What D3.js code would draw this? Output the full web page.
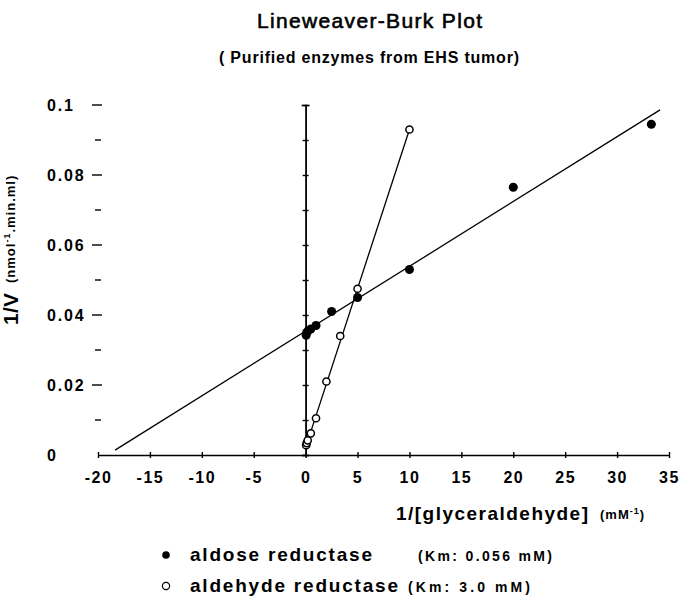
<!DOCTYPE html>
<html>
<head>
<meta charset="utf-8">
<script src="https://cdn.jsdelivr.net/npm/d3@7"></script>
<style>
  body { margin: 0; background: #fff; }
  svg { display: block; }
  text { font-family: "Liberation Sans", Arial, Helvetica, sans-serif; fill: #000; }
</style>
</head>
<body>
<svg id="chart" width="681" height="598"></svg>
<script>
// 1/[S] (mM^-1) and 1/V readings
const aldoseX = [0.05, 0.1, 0.25, 0.5, 1, 2.5, 5, 10, 20, 33.3];
const aldoseY = [0.0342, 0.035, 0.0355, 0.036, 0.037, 0.041, 0.045, 0.053, 0.0765, 0.0945];
const aldehydeX = [0.05, 0.1, 0.2, 0.5, 1, 2, 3.33, 5, 10];
const aldehydeY = [0.0028, 0.0034, 0.0042, 0.0062, 0.0105, 0.021, 0.034, 0.0475, 0.093];

// fitted lines (end points)
const aldoseFitX = [-18.36, 34.14];
const aldoseFitY = [0.0014, 0.0986];
const aldehydeFitX = [0.05, 10];
const aldehydeFitY = [0.0026, 0.093];

const xTicks = [-20, -15, -10, -5, 0, 5, 10, 15, 20, 25, 30, 35];
const xTickLabels = ["-20", "-15", "-10", "-5", "0", "5", "10", "15", "20", "25", "30", "35"];
const yMajor = [0, 0.02, 0.04, 0.06, 0.08, 0.1];
const yMajorLabels = ["0", "0.02", "0.04", "0.06", "0.08", "0.1"];
const yMinor = [0.01, 0.03, 0.05, 0.07, 0.09];
const yAll = [0, 0.01, 0.02, 0.03, 0.04, 0.05, 0.06, 0.07, 0.08, 0.09, 0.1];

const legendNames = ["aldose reductase", "aldehyde reductase"];
const legendKm = ["(Km: 0.056 mM)", "(Km: 3.0 mM)"];

const svg = d3.select("#chart");

const x = d3.scaleLinear().domain([-20, 35]).range([98, 669]);
const y = d3.scaleLinear().domain([0, 0.1]).range([455, 105]);

// titles
svg.append("text")
    .attr("x", 257).attr("y", 28)
    .attr("textLength", 225).attr("lengthAdjust", "spacing")
    .style("font-size", "21px")
    .style("stroke", "#000").style("stroke-width", 0.6)
    .text("Lineweaver-Burk Plot");

svg.append("text")
    .attr("x", 219).attr("y", 63)
    .attr("textLength", 300).attr("lengthAdjust", "spacing")
    .style("font-size", "16px").style("font-weight", "bold")
    .text("( Purified enzymes from EHS tumor)");

// x axis (ticks cross the line)
const xAxis = svg.append("g")
    .attr("transform", `translate(0,${y(0)})`)
    .call(d3.axisBottom(x).tickValues(xTicks).tickSizeInner(3).tickSizeOuter(0)
        .tickFormat((d, i) => xTickLabels[i]));
svg.append("g")
    .attr("transform", `translate(0,${y(0)})`)
    .call(d3.axisTop(x).tickValues(xTicks).tickSizeInner(3).tickSizeOuter(0).tickFormat(""))
    .select(".domain").remove();

xAxis.selectAll("text")
    .attr("y", 28).attr("dy", null)
    .style("font-family", null)
    .style("font-size", "16px").style("font-weight", "bold")
    .style("letter-spacing", "1.5px");

// vertical axis through x = 0
svg.append("g")
    .attr("transform", `translate(${x(0)},0)`)
    .call(d3.axisRight(y).tickValues(yAll).tickSizeInner(3).tickSizeOuter(4).tickFormat(""));
svg.append("g")
    .attr("transform", `translate(${x(0)},0)`)
    .call(d3.axisLeft(y).tickValues(yAll).tickSizeInner(3).tickSizeOuter(4).tickFormat(""));

svg.selectAll(".domain, .tick line")
    .attr("stroke", "#000").attr("stroke-width", 1.4);
svg.selectAll(".tick text").attr("fill", "#000");

// left-hand dash marks and labels
svg.append("g").selectAll("line")
    .data(yMajor.filter(d => d > 0))
    .join("line")
    .attr("x1", 92).attr("x2", 102)
    .attr("y1", d => y(d)).attr("y2", d => y(d))
    .attr("stroke", "#000").attr("stroke-width", 1.4);
svg.append("g").selectAll("line")
    .data(yMinor)
    .join("line")
    .attr("x1", 95).attr("x2", 101)
    .attr("y1", d => y(d)).attr("y2", d => y(d))
    .attr("stroke", "#000").attr("stroke-width", 1.4);

svg.append("g").selectAll("text")
    .data(yMajor)
    .join("text")
    .attr("x", 47)
    .attr("y", d => y(d) + 6)
    .style("font-size", "16px").style("font-weight", "bold")
    .style("letter-spacing", "1.8px")
    .text((d, i) => yMajorLabels[i]);

// axis titles
const yTitle = svg.append("g");
yTitle.append("text")
    .attr("transform", "translate(18,325) rotate(-90)")
    .attr("textLength", 32).attr("lengthAdjust", "spacing")
    .style("font-size", "21px").style("font-weight", "bold")
    .text("1/V");
const yUnit = yTitle.append("text")
    .attr("transform", "translate(15,283) rotate(-90)")
    .style("font-size", "13px").style("font-weight", "bold")
    .style("letter-spacing", "1px");
yUnit.append("tspan").text("(nmol");
yUnit.append("tspan").attr("baseline-shift", "super").style("font-size", "9px").text("-1");
yUnit.append("tspan").text(".min.ml)");

svg.append("text")
    .attr("x", 396).attr("y", 520)
    .attr("textLength", 192).attr("lengthAdjust", "spacing")
    .style("font-size", "19px").style("font-weight", "bold")
    .text("1/[glyceraldehyde]");
const xUnit = svg.append("text")
    .attr("x", 600).attr("y", 519)
    .style("font-size", "13px").style("font-weight", "bold")
    .style("letter-spacing", "1px");
xUnit.append("tspan").text("(mM");
xUnit.append("tspan").attr("baseline-shift", "super").style("font-size", "9px").text("-1");
xUnit.append("tspan").text(")");

// fitted lines
const line = d3.line().x(d => x(d[0])).y(d => y(d[1]));
svg.append("path")
    .datum(d3.zip(aldoseFitX, aldoseFitY))
    .attr("d", line)
    .attr("fill", "none").attr("stroke", "#000").attr("stroke-width", 1.3);
svg.append("path")
    .datum(d3.zip(aldehydeFitX, aldehydeFitY))
    .attr("d", line)
    .attr("fill", "none").attr("stroke", "#000").attr("stroke-width", 1.3);

// data points
svg.append("g").selectAll("circle")
    .data(d3.zip(aldoseX, aldoseY))
    .join("circle")
    .attr("cx", d => x(d[0])).attr("cy", d => y(d[1]))
    .attr("r", 4.5)
    .attr("fill", "#000");
svg.append("g").selectAll("circle")
    .data(d3.zip(aldehydeX, aldehydeY))
    .join("circle")
    .attr("cx", d => x(d[0])).attr("cy", d => y(d[1]))
    .attr("r", 3.6)
    .attr("fill", "#fff").attr("stroke", "#000").attr("stroke-width", 1.5);

// legend
const legend = svg.append("g");
const rowY = [561, 592];
const nameLen = [182, 208];
const kmX = [418, 408];
const kmLen = [134, 122];

legend.append("circle")
    .attr("cx", 166).attr("cy", rowY[0] - 6).attr("r", 3.8).attr("fill", "#000");
legend.append("circle")
    .attr("cx", 166).attr("cy", rowY[1] - 6).attr("r", 3.6)
    .attr("fill", "#fff").attr("stroke", "#000").attr("stroke-width", 1.2);

legend.selectAll("text.name")
    .data(legendNames)
    .join("text")
    .attr("class", "name")
    .attr("x", 190).attr("y", (d, i) => rowY[i])
    .attr("textLength", (d, i) => nameLen[i]).attr("lengthAdjust", "spacing")
    .style("font-size", "19px").style("font-weight", "bold")
    .text(d => d);

legend.selectAll("text.km")
    .data(legendKm)
    .join("text")
    .attr("class", "km")
    .attr("x", (d, i) => kmX[i]).attr("y", (d, i) => rowY[i])
    .attr("textLength", (d, i) => kmLen[i]).attr("lengthAdjust", "spacing")
    .style("font-size", "14px").style("font-weight", "bold")
    .text(d => d);
</script>
</body>
</html>
